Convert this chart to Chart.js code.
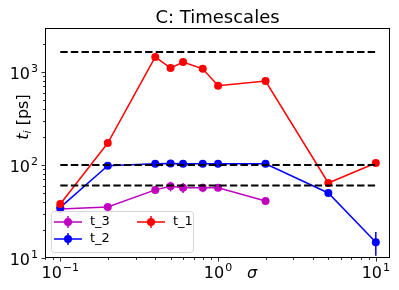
<!DOCTYPE html>
<html>
<head>
<meta charset="utf-8">
<script src="https://cdn.jsdelivr.net/npm/chart.js@4.4.1/dist/chart.umd.min.js"></script>
<style>
  html, body { margin: 0; padding: 0; background: #fff; }
  #c { display: block; }
</style>
</head>
<body>
<canvas id="c" width="399" height="290"></canvas>
<script>
// sigma values and the three timescales (ps)
const sigma = [0.1, 0.2, 0.4, 0.5, 0.6, 0.8, 1.0, 2.0, 5.0, 10.0];
const t1 = [38, 172, 1450, 1100, 1280, 1080, 710, 800, 64, 105];
const t1Err = [3, 6, 30, 30, 30, 30, 20, 20, 3, 4];
const t2 = [35, 98, 103, 104, 103, 103, 103, 103, 50, 14.8];
const t2Err = [1, 2, 2, 2, 2, 2, 2, 2, 2, 4.2];
const sigma3 = [0.1, 0.2, 0.4, 0.5, 0.6, 0.8, 1.0, 2.0];
const t3 = [33.6, 35.4, 54, 59, 57, 57, 57, 41];
const t3Err = [1, 1, 2, 7, 7, 6, 3, 3];
// dashed reference levels
const refLevels = [1640, 100, 60];
const refSpan = [0.1, 10];

const RED = '#ff0000', BLUE = '#0000ff', MAG = '#bf00bf';
const FONT = 'DejaVu Sans';

const pts = (xs, ys) => xs.map((x, i) => ({ x: x, y: ys[i] }));

const series = [
  { label: 't_1', color: RED, xs: sigma, ys: t1, err: t1Err },
  { label: 't_2', color: BLUE, xs: sigma, ys: t2, err: t2Err },
  { label: 't_3', color: MAG, xs: sigma3, ys: t3, err: t3Err },
];

const datasets = [];
refLevels.forEach(v => {
  datasets.push({
    data: refSpan.map(x => ({ x: x, y: v })),
    borderColor: '#000', borderWidth: 2, borderDash: [7.4, 3.2],
    pointRadius: 0, fill: false,
  });
});
series.forEach(s => {
  datasets.push({
    label: s.label,
    data: pts(s.xs, s.ys),
    err: s.err,
    borderColor: s.color, backgroundColor: s.color,
    pointBackgroundColor: s.color, pointBorderColor: s.color,
    borderWidth: 1.5, pointRadius: 4, pointBorderWidth: 0, fill: false,
  });
});

function sup(ctx, base, exp, x, y, align) {
  ctx.font = '16px ' + FONT;
  const wb = ctx.measureText(base).width;
  ctx.font = '11px ' + FONT;
  const we = ctx.measureText(exp).width;
  const w = wb + we + 1;
  let x0 = align === 'right' ? x - w : x - w / 2;
  ctx.textAlign = 'left';
  ctx.textBaseline = 'alphabetic';
  ctx.font = '16px ' + FONT;
  ctx.fillText(base, x0, y);
  ctx.font = '11px ' + FONT;
  ctx.fillText(exp, x0 + wb + 1, y - 7);
}

const decor = {
  id: 'decor',
  afterDatasetDraw(chart, args) {
    const ds = chart.data.datasets[args.index];
    if (!ds.err) return;
    const ctx = chart.ctx, xs = chart.scales.x, ys = chart.scales.y;
    ctx.save();
    ctx.strokeStyle = ds.borderColor;
    ctx.lineWidth = 1.5;
    ds.data.forEach((p, i) => {
      const px = xs.getPixelForValue(p.x);
      ctx.beginPath();
      ctx.moveTo(px, ys.getPixelForValue(p.y + ds.err[i]));
      ctx.lineTo(px, ys.getPixelForValue(Math.max(p.y - ds.err[i], 1e-3)));
      ctx.stroke();
    });
    ctx.restore();
  },
  afterDraw(chart) {
    const ctx = chart.ctx, a = chart.chartArea;
    const xs = chart.scales.x, ys = chart.scales.y;
    ctx.save();
    ctx.fillStyle = '#000';
    ctx.strokeStyle = '#000';
    // frame
    ctx.lineWidth = 1;
    ctx.strokeRect(a.left + 0.5, a.top + 0.5, a.right - a.left - 1, a.bottom - a.top - 1);
    // ticks
    ctx.lineWidth = 0.8;
    for (let e = -2; e <= 1; e++) {
      for (let m = 1; m <= 9; m++) {
        const v = m * Math.pow(10, e);
        if (v < xs.min || v > xs.max) continue;
        const px = Math.round(xs.getPixelForValue(v)) + 0.5;
        ctx.beginPath();
        ctx.moveTo(px, a.bottom);
        ctx.lineTo(px, a.bottom + (m === 1 ? 3.5 : 2));
        ctx.stroke();
      }
    }
    for (let e = 1; e <= 3; e++) {
      for (let m = 1; m <= 9; m++) {
        const v = m * Math.pow(10, e);
        if (v < ys.min || v > ys.max) continue;
        const py = Math.round(ys.getPixelForValue(v)) + 0.5;
        ctx.beginPath();
        ctx.moveTo(a.left, py);
        ctx.lineTo(a.left - (m === 1 ? 3.5 : 2), py);
        ctx.stroke();
      }
    }
    // tick labels
    [[0.1, '\u22121'], [1, '0'], [10, '1']].forEach(([v, ex]) => {
      sup(ctx, '10', ex, xs.getPixelForValue(v), a.bottom + 20, 'center');
    });
    [[10, '1'], [100, '2'], [1000, '3']].forEach(([v, ex]) => {
      sup(ctx, '10', ex, a.left - 7, ys.getPixelForValue(v) + 7, 'right');
    });
    // x label
    ctx.font = 'italic 16px ' + FONT;
    ctx.textAlign = 'center';
    ctx.fillText('\u03c3', 252, a.bottom + 20);
    // y label
    ctx.save();
    ctx.translate(28, 117);
    ctx.rotate(-Math.PI / 2);
    ctx.textAlign = 'left';
    ctx.font = 'italic 16px ' + FONT;
    const wt = ctx.measureText('t').width;
    ctx.font = 'italic 11px ' + FONT;
    const wi = ctx.measureText('i').width;
    ctx.font = '16px ' + FONT;
    const wp = ctx.measureText(' [ps]').width;
    let x0 = -(wt + wi + wp) / 2;
    ctx.font = 'italic 16px ' + FONT;
    ctx.fillText('t', x0, 0);
    ctx.font = 'italic 11px ' + FONT;
    ctx.fillText('i', x0 + wt, 3);
    ctx.font = '16px ' + FONT;
    ctx.fillText(' [ps]', x0 + wt + wi, 0);
    ctx.restore();
    // title
    ctx.font = '18px ' + FONT;
    ctx.textAlign = 'center';
    ctx.fillText('C: Timescales', (a.left + a.right) / 2, 23);
    // legend
    const lx = 51, ly = 211, lw = 142, lh = 41, r = 3;
    ctx.beginPath();
    ctx.roundRect(lx + 0.5, ly + 0.5, lw, lh, r);
    ctx.fillStyle = 'rgba(255,255,255,0.8)';
    ctx.fill();
    ctx.strokeStyle = '#d6d6d6';
    ctx.lineWidth = 1;
    ctx.stroke();
    const items = [
      { s: series[2], x: 54, y: 222 },
      { s: series[1], x: 54, y: 239 },
      { s: series[0], x: 137, y: 222 },
    ];
    items.forEach(it => {
      ctx.strokeStyle = it.s.color;
      ctx.fillStyle = it.s.color;
      ctx.lineWidth = 1.5;
      ctx.beginPath();
      ctx.moveTo(it.x, it.y); ctx.lineTo(it.x + 28, it.y);
      ctx.moveTo(it.x + 14, it.y - 6); ctx.lineTo(it.x + 14, it.y + 6);
      ctx.stroke();
      ctx.beginPath();
      ctx.arc(it.x + 14, it.y, 4, 0, Math.PI * 2);
      ctx.fill();
      ctx.fillStyle = '#000';
      ctx.font = '13px ' + FONT;
      ctx.textAlign = 'left';
      ctx.textBaseline = 'middle';
      ctx.fillText(it.s.label, it.x + 36, it.y);
      ctx.textBaseline = 'alphabetic';
    });
    ctx.restore();
  }
};

new Chart(document.getElementById('c'), {
  type: 'line',
  data: { datasets: datasets },
  options: {
    responsive: false,
    animation: false,
    devicePixelRatio: 1,
    layout: { padding: { top: 28, right: 9, left: 0, bottom: 0 } },
    plugins: { legend: { display: false }, tooltip: { enabled: false }, title: { display: false } },
    scales: {
      x: {
        type: 'logarithmic', min: 0.08, max: 12.3,
        grid: { display: false }, border: { display: false },
        ticks: { display: false },
        afterFit(s) { s.height = 32; },
      },
      y: {
        type: 'logarithmic', min: 10, max: 2970,
        grid: { display: false }, border: { display: false },
        ticks: { display: false },
        afterFit(s) { s.width = 45; },
      },
    },
  },
  plugins: [decor],
});
</script>
</body>
</html>
